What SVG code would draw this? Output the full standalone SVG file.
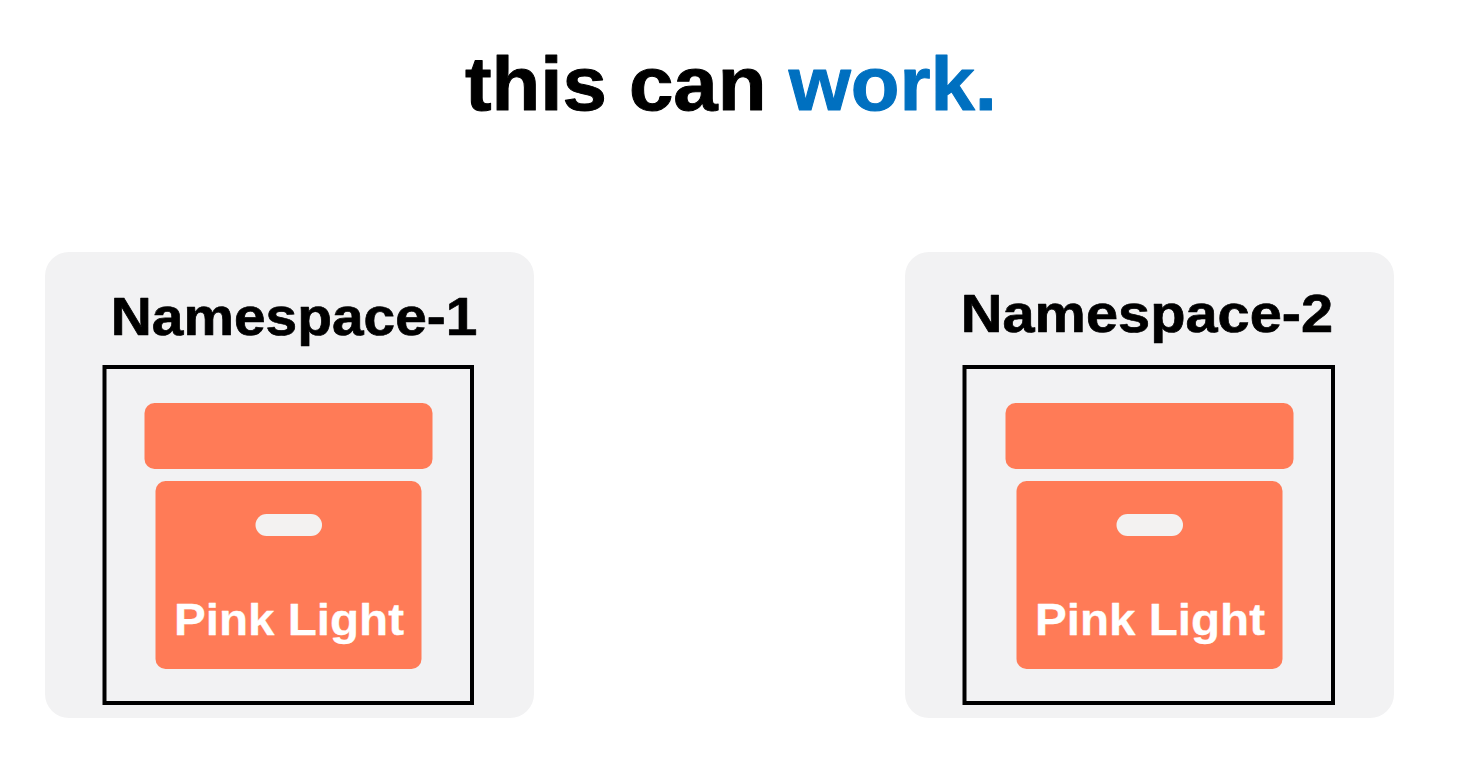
<svg xmlns="http://www.w3.org/2000/svg" width="1466" height="776" viewBox="0 0 1466 776">
<style>
text{font-family:"Liberation Sans",Arial,sans-serif;font-weight:700;text-anchor:middle;stroke-linejoin:round}
.ns{fill:#f2f2f3}
.frame{fill:none;stroke:#000;stroke-width:4}
.box{fill:#ff7b57}
.slot{fill:#f3f2f1}
.nt{font-size:53px;fill:#000;stroke:#000;stroke-width:.7px}
.pl{font-size:45px;fill:#fff;stroke:#fff;stroke-width:.3px}
</style>
<rect width="1466" height="776" fill="#fff"/>
<text id="title" transform="translate(731 110) scale(1.05 1)" font-size="76" fill="#000" stroke="#000" stroke-width="1">this can <tspan fill="#0070c0" stroke="#0070c0">work.</tspan></text>
<g id="namespace-1">
<rect class="ns" x="45" y="252" width="489" height="466" rx="24"/>
<text class="nt" transform="translate(294 335) scale(1.073 1)">Namespace-1</text>
<rect class="frame" x="104.5" y="367" width="367.5" height="336"/>
<rect class="box" x="144.5" y="403" width="288" height="66" rx="10"/>
<rect class="box" x="155.5" y="481" width="266" height="188" rx="10"/>
<rect class="slot" x="255.5" y="514" width="66.5" height="22" rx="11"/>
<text class="pl" transform="translate(289 634.5) scale(1.058 1)">Pink Light</text>
</g>
<g id="namespace-2">
<rect class="ns" x="905" y="252" width="489" height="466" rx="24"/>
<text class="nt" transform="translate(1147 332) scale(1.09 1)">Namespace-2</text>
<rect class="frame" x="964.5" y="367" width="368.5" height="336"/>
<rect class="box" x="1005.5" y="403" width="288" height="66" rx="10"/>
<rect class="box" x="1016.5" y="481" width="266" height="188" rx="10"/>
<rect class="slot" x="1116.5" y="514" width="66.5" height="22" rx="11"/>
<text class="pl" transform="translate(1150 634.5) scale(1.058 1)">Pink Light</text>
</g>
<g id="connectors"/>
</svg>
